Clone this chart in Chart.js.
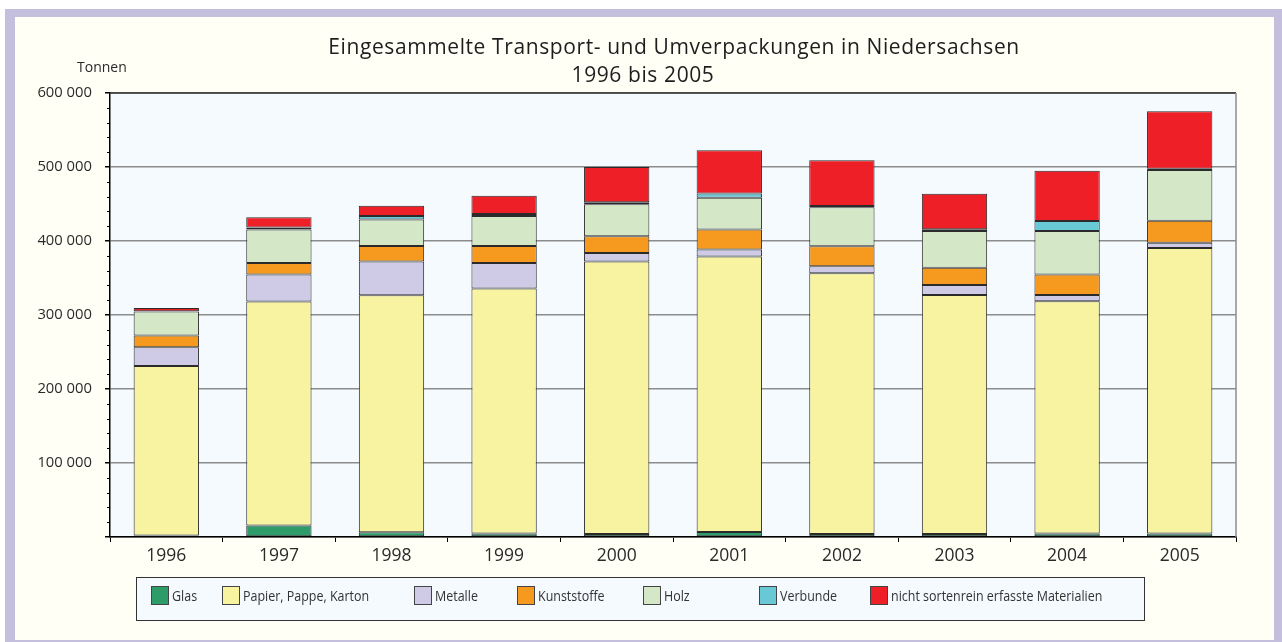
<!DOCTYPE html>
<html><head><meta charset="utf-8">
<script src="https://cdn.jsdelivr.net/npm/chart.js@4.4.1/dist/chart.umd.min.js"></script>
<style>
html,body{margin:0;padding:0;background:#fff;width:1282px;height:642px;overflow:hidden;}
#frame{position:absolute;left:5px;top:9px;width:1277px;height:633px;background:#c3bfdd;}
#inner{position:absolute;left:15px;top:17px;width:1259px;height:623px;background:#fffff6;}
#c{position:absolute;left:0;top:0;width:1282px;height:642px;}
</style></head><body>
<div id="frame"></div><div id="inner"></div>
<canvas id="c" width="1282" height="642"></canvas>
<script>
const years = ['1996','1997','1998','1999','2000','2001','2002','2003','2004','2005'];
const glas     = [2000, 15400, 6300, 4600, 4000, 6800, 4000, 4000, 4600, 4600];
const papier   = [229000, 302700, 320300, 331100, 368200, 372100, 352400, 323000, 313900, 385900];
const metalle  = [25300, 36500, 45600, 34600, 11600, 9500, 9400, 13500, 8500, 7300];
const kunst    = [16000, 15700, 21000, 22900, 22600, 27000, 27000, 23500, 27600, 29700];
const holz     = [32400, 45100, 35700, 40600, 43200, 43200, 52700, 49500, 58900, 68400];
const verbunde = [500, 2700, 4900, 2700, 2700, 5500, 1800, 2300, 13500, 1900];
const nicht    = [4400, 13900, 14000, 24800, 47700, 58500, 61700, 48200, 68100, 77500];
const seriesNames = ['Glas','Papier, Pappe, Karton','Metalle','Kunststoffe','Holz','Verbunde','nicht sortenrein erfasste Materialien'];
const yTicks = [0,100000,200000,300000,400000,500000,600000];

const colors = ['#2e9c68','#f8f3a0','#cfcbe6','#f6991f','#d4e8c8','#68c8d6','#ee1f26'];
const seriesData = [glas,papier,metalle,kunst,holz,verbunde,nicht];
const FONT = "'Open Sans', sans-serif";

const legendX = [151, 222, 414, 517, 643, 759, 870];

const decor = {
  id:'decor',
  beforeDraw(chart){
    const {ctx, chartArea:a} = chart;
    ctx.save();
    ctx.fillStyle = '#f5faff';
    ctx.fillRect(a.left, a.top, a.right-a.left, a.bottom-a.top);
    ctx.restore();
  },
  afterDraw(chart){
    const {ctx, chartArea:a} = chart;
    const y = chart.scales.y;
    ctx.save();
    // minor ticks
    ctx.strokeStyle = '#000'; ctx.lineWidth = 1;
    for (let v = 0; v <= 600000; v += 20000) {
      if (v % 100000 === 0) continue;
      const py = Math.round(y.getPixelForValue(v)) + 0.5;
      ctx.beginPath(); ctx.moveTo(a.left-3, py); ctx.lineTo(a.left, py); ctx.stroke();
    }
    // top & right borders
    ctx.strokeStyle = '#333'; ctx.lineWidth = 1.5;
    ctx.beginPath(); ctx.moveTo(a.left, a.top); ctx.lineTo(a.right, a.top); ctx.stroke();
    ctx.strokeStyle = '#8c8c8c';
    ctx.beginPath(); ctx.moveTo(a.right, a.top); ctx.lineTo(a.right, a.bottom); ctx.stroke();
    // titles
    ctx.fillStyle = '#1e1e1e';
    ctx.textBaseline = 'alphabetic';
    ctx.textAlign = 'center';
    ctx.font = "21px " + FONT;
    ctx.letterSpacing = '0.6px';
    ctx.fillText('Eingesammelte Transport- und Umverpackungen in Niedersachsen', 674, 54);
    ctx.fillText('1996 bis 2005', 643, 82);
    ctx.letterSpacing = '0px';
    ctx.textAlign = 'left';
    ctx.font = "14px " + FONT;
    ctx.fillStyle = '#2a2a2a';
    ctx.fillText('Tonnen', 77, 72);
    // legend
    ctx.fillStyle = '#f5faff';
    ctx.fillRect(136, 577, 1009, 43);
    ctx.strokeStyle = '#333'; ctx.lineWidth = 1;
    ctx.strokeRect(136.5, 577.5, 1008, 43);
    chart.data.datasets.forEach((ds, i) => {
      const x = legendX[i];
      ctx.fillStyle = ds.backgroundColor;
      ctx.fillRect(x, 586, 18, 19);
      ctx.strokeStyle = '#444';
      ctx.strokeRect(x+0.5, 586.5, 17, 18);
      ctx.fillStyle = '#333';
      ctx.font = "14.5px " + FONT;
      ctx.save();
      ctx.translate(x + 21, 601);
      ctx.scale(0.86, 1);
      ctx.fillText(ds.label, 0, 0);
      ctx.restore();
    });
    ctx.restore();
  }
};

new Chart(document.getElementById('c'), {
  type:'bar',
  data:{
    labels: years,
    datasets: seriesData.map((d,i)=>({
      label: seriesNames[i], data: d, backgroundColor: colors[i],
      borderColor:'#2b2b2b', borderWidth:1, borderSkipped:false,
      barPercentage:0.58, categoryPercentage:1
    }))
  },
  options:{
    responsive:false, animation:false, devicePixelRatio:1,
    layout:{padding:{left:0, top:93, right:46, bottom:75}},
    plugins:{legend:{display:false}, title:{display:false}, tooltip:{enabled:false}},
    scales:{
      x:{
        stacked:true,
        grid:{offset:true, drawOnChartArea:false, drawTicks:true, tickLength:5, tickColor:'#000', color:'#000'},
        border:{display:true, color:'#000', width:1.5},
        ticks:{color:'#2a2a2a', font:{family:FONT, size:17.5}, padding:4, maxRotation:0},
        afterFit(s){ s.height = 30; }
      },
      y:{
        stacked:true, min:0, max:600000,
        afterBuildTicks(s){ s.ticks = yTicks.map(v=>({value:v})); },
        grid:{color:'#8c8c8c', lineWidth:1.5, tickLength:5, tickColor:'#000', drawTicks:true},
        border:{display:true, color:'#000', width:1.5},
        ticks:{color:'#2a2a2a', font:{family:FONT, size:14.8}, padding:13,
          callback(v){ return v===0 ? '' : String(v).replace(/\B(?=(\d{3})+(?!\d))/g,' '); }},
        afterFit(s){ s.width = 110; }
      }
    }
  },
  plugins:[decor]
});
</script>
</body></html>
